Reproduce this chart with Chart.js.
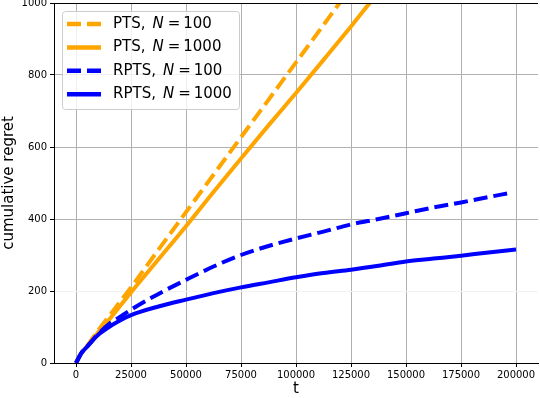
<!DOCTYPE html>
<html>
<head>
<meta charset="utf-8">
<script src="https://cdn.jsdelivr.net/npm/chart.js@4"></script>
<style>
  body { margin: 0; background: #fff; }
  canvas { display: block; }
</style>
</head>
<body>
<canvas id="regretChart" width="540" height="398"></canvas>
<script>
const xTicks = [0, 25000, 50000, 75000, 100000, 125000, 150000, 175000, 200000];
const yTicks = [0, 200, 400, 600, 800, 1000];

// time steps for the RPTS runs
const rptsT = [0, 2500, 5000, 10000, 15000, 20000, 25000, 37500, 50000, 62500, 75000, 87500,
  100000, 112500, 125000, 137500, 150000, 162500, 175000, 187500, 200000];
const rpts1000 = [0, 28, 45, 78, 100, 118, 133, 157, 176, 194, 210, 224,
  238, 250, 259, 270, 282, 290, 298, 307, 315];
const rpts100T = [0, 2500, 5000, 10000, 15000, 20000, 25000, 37500, 50000, 62500, 75000, 87500,
  100000, 112500, 125000, 137500, 150000, 162500, 175000, 187500, 197000];
const rpts100 = [0, 28, 45, 80, 108, 128, 148, 192, 231, 268, 300, 325,
  346, 365, 385, 400, 416, 432, 446, 461, 472];

// PTS runs leave the plot at the top
const pts100T = [0, 2500, 5000, 10000, 15000, 20000, 25000, 37500, 50000, 62500, 75000, 87500,
  100000, 112500, 119800];
const pts100 = [0, 28, 47, 90, 130, 170, 210, 315, 419, 523, 627, 731, 835, 939, 1000];
const pts1000T = [0, 2500, 5000, 10000, 15000, 20000, 25000, 37500, 50000, 62500, 75000, 87500,
  100000, 112500, 125000, 133500];
const pts1000 = [0, 28, 46, 85, 120, 158, 196, 288, 380, 475, 568, 660, 750, 842, 935, 1000];

const labels = ['PTS', 'PTS', 'RPTS', 'RPTS'];
const sizes = ['100', '1000', '100', '1000'];

const toPoints = (t, v) => t.map((x, i) => ({ x: x, y: v[i] }));
const FONT = 'DejaVu Sans';
const DASH = [14, 6];

const lineStyle = (color, dashed, order) => ({
  borderColor: color,
  backgroundColor: color,
  borderWidth: 4,
  borderDash: dashed ? DASH : [],
  borderCapStyle: 'butt',
  pointRadius: 0,
  fill: false,
  cubicInterpolationMode: 'monotone',
  order: order
});

const data = {
  datasets: [
    Object.assign({ data: toPoints(pts100T, pts100) }, lineStyle('#ffa500', true, 4)),
    Object.assign({ data: toPoints(pts1000T, pts1000) }, lineStyle('#ffa500', false, 3)),
    Object.assign({ data: toPoints(rpts100T, rpts100) }, lineStyle('#0000ff', true, 2)),
    Object.assign({ data: toPoints(rptsT, rpts1000) }, lineStyle('#0000ff', false, 1))
  ]
};

// legend box inside the plot, matplotlib style
const insideLegend = {
  id: 'insideLegend',
  afterDatasetsDraw(chart) {
    const c = chart.ctx;
    const bx = 62, by = 11, bw = 177, bh = 98;
    c.save();
    c.beginPath();
    c.roundRect(bx + 0.5, by + 0.5, bw, bh, 3);
    c.fillStyle = 'rgba(255,255,255,0.8)';
    c.fill();
    c.strokeStyle = '#cccccc';
    c.lineWidth = 1;
    c.stroke();
    chart.data.datasets.forEach((ds, i) => {
      const y = 24 + i * 23.4;
      c.beginPath();
      c.setLineDash(ds.borderDash);
      c.strokeStyle = ds.borderColor;
      c.lineWidth = 4.5;
      c.lineCap = 'butt';
      c.moveTo(67, y);
      c.lineTo(101, y);
      c.stroke();
      c.setLineDash([]);
      c.fillStyle = '#000';
      c.textBaseline = 'middle';
      let x = 113;
      c.font = '15px "' + FONT + '"';
      c.fillText(labels[i] + ',', x, y);
      x += c.measureText(labels[i] + ',').width + 7;
      c.font = 'italic 15px "' + FONT + '"';
      c.fillText('N', x, y);
      x += c.measureText('N').width + 4;
      c.font = '15px "' + FONT + '"';
      c.fillText('=', x, y);
      x += c.measureText('=').width + 3;
      c.fillText(sizes[i], x, y);
    });
    c.restore();
  },
  afterDraw(chart) {
    const a = chart.chartArea;
    const c = chart.ctx;
    c.save();
    c.strokeStyle = '#000';
    c.lineWidth = 1;
    c.beginPath();
    c.moveTo(a.left, a.top + 0.5);
    c.lineTo(a.right, a.top + 0.5);
    c.stroke();
    c.restore();
  }
};

new Chart(document.getElementById('regretChart'), {
  type: 'line',
  data: data,
  plugins: [insideLegend],
  options: {
    responsive: false,
    animation: false,
    devicePixelRatio: 1,
    layout: { padding: { top: 3, right: 2, left: 0, bottom: 0 } },
    plugins: { legend: { display: false }, tooltip: { enabled: false } },
    scales: {
      x: {
        type: 'linear',
        min: -10000,
        max: 210000,
        afterBuildTicks: s => { s.ticks = xTicks.map(v => ({ value: v })); },
        afterFit: s => { s.height = 35; s.paddingLeft = 0; s.paddingRight = 0; },
        ticks: {
          font: { family: FONT, size: 10 },
          color: '#000',
          padding: 2,
          maxRotation: 0,
          autoSkip: false,
          callback: v => String(v)
        },
        grid: { color: '#b0b0b0', tickColor: '#000', tickLength: 4, lineWidth: 1 },
        border: { color: '#000', width: 1 },
        title: {
          display: true,
          text: 't',
          font: { family: FONT, size: 15 },
          color: '#000',
          padding: { top: 0, bottom: 0 }
        }
      },
      y: {
        min: 0,
        max: 1000,
        afterBuildTicks: s => { s.ticks = yTicks.map(v => ({ value: v })); },
        afterFit: s => { s.width = 54; s.paddingTop = 0; s.paddingBottom = 0; },
        ticks: {
          font: { family: FONT, size: 10 },
          color: '#000',
          padding: 3,
          autoSkip: false,
          callback: v => String(v)
        },
        grid: {
          color: ctx => (ctx.tick && ctx.tick.value === 200) ? '#f2f2f2' : '#b0b0b0',
          tickColor: '#000',
          tickLength: 4,
          lineWidth: 1
        },
        border: { color: '#000', width: 1 },
        title: {
          display: true,
          text: 'cumulative regret',
          font: { family: FONT, size: 15 },
          color: '#000',
          padding: { top: 0, bottom: 0 }
        }
      }
    }
  }
});
</script>
</body>
</html>
